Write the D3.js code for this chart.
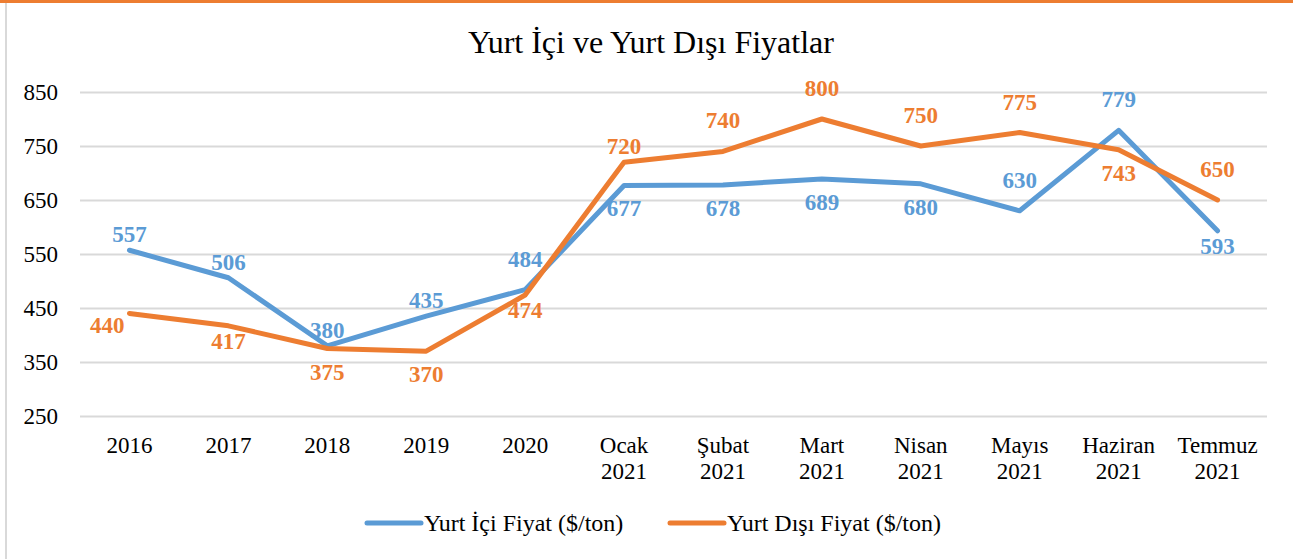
<!DOCTYPE html>
<html>
<head>
<meta charset="utf-8">
<script src="https://cdn.jsdelivr.net/npm/d3@7"></script>
<style>
  body { margin: 0; background: #fff; }
  svg text { font-family: "Liberation Serif", "Times New Roman", serif; }
</style>
</head>
<body>
<div id="vis-holder"></div>
<script>
// Chart data
const categories = ["2016", "2017", "2018", "2019", "2020", "Ocak\n2021", "Şubat\n2021", "Mart\n2021",
                    "Nisan\n2021", "Mayıs\n2021", "Haziran\n2021", "Temmuz\n2021"];
const domesticPrices = [557, 506, 380, 435, 484, 677, 678, 689, 680, 630, 779, 593];
const foreignPrices = [440, 417, 375, 370, 474, 720, 740, 800, 750, 775, 743, 650];
const yTicks = [250, 350, 450, 550, 650, 750, 850];
const seriesNames = ["Yurt İçi Fiyat ($/ton)", "Yurt Dışı Fiyat ($/ton)"];

// where each data label sits relative to its point
const domesticLabelSide = ["above", "above", "above", "above", "high", "below", "below", "below", "below", "high", "high", "near"];
const foreignLabelSide = ["left", "near", "below", "below", "near", "above", "high", "high", "high", "high", "below", "high"];
const labelDy = { above: -8, high: -23, below: 31, near: 23, left: 20 };

const W = 1293, H = 559;
const margin = { top: 92, right: 26, bottom: 143, left: 80 };

const blue = "#5B9BD5";
const orange = "#ED7D31";

const svg = d3.select("#vis-holder")
  .append("svg")
  .attr("width", W)
  .attr("height", H);

// frame bits: orange strip on top, grey edge on left
svg.append("rect").attr("x", 0).attr("y", 0).attr("width", W).attr("height", 3).attr("fill", orange);
svg.append("rect").attr("x", 5).attr("y", 3).attr("width", 2).attr("height", H - 3).attr("fill", "#d9d9d9");

// Scales
const x = d3.scaleBand()
  .domain(categories)
  .range([margin.left, W - margin.right])
  .padding(0);

const y = d3.scaleLinear()
  .domain([250, 850])
  .range([H - margin.bottom, margin.top]);

// Title
svg.append("text")
  .attr("x", 651)
  .attr("y", 53)
  .attr("text-anchor", "middle")
  .attr("font-size", "32px")
  .attr("fill", "#000")
  .text("Yurt İçi ve Yurt Dışı Fiyatlar");

// Grid lines + y axis labels
const yAxis = svg.append("g")
  .attr("transform", `translate(${margin.left},0)`)
  .call(d3.axisLeft(y).tickValues(yTicks).tickSize(-(W - margin.left - margin.right)).tickPadding(22))
  .call((g) => g.select(".domain").remove());

yAxis.selectAll(".tick line").attr("stroke", "#d9d9d9").attr("stroke-width", 2);
yAxis.selectAll(".tick text")
  .attr("font-size", "23px")
  .attr("fill", "#000")
  .attr("font-family", "Liberation Serif, Times New Roman, serif");

// X axis labels (two lines)
const xAxis = svg.append("g")
  .attr("transform", `translate(0,${H - margin.bottom})`)
  .call(d3.axisBottom(x).tickSize(0).tickFormat(""))
  .call((g) => g.select(".domain").remove());

xAxis.selectAll(".tick").each(function (d) {
  const parts = d.split("\n");
  const t = d3.select(this).append("text")
    .attr("text-anchor", "middle")
    .attr("font-size", "23px")
    .attr("fill", "#000")
    .attr("font-family", "Liberation Serif, Times New Roman, serif");
  parts.forEach((p, i) => {
    t.append("tspan").attr("x", 0).attr("y", 37 + i * 26).text(p);
  });
});

// Lines
const line = d3.line()
  .x((d, i) => x(categories[i]) + x.bandwidth() / 2)
  .y((d) => y(d));

const series = [
  { values: domesticPrices, color: blue, sides: domesticLabelSide },
  { values: foreignPrices, color: orange, sides: foreignLabelSide }
];

series.forEach((s) => {
  svg.append("path")
    .datum(s.values)
    .attr("fill", "none")
    .attr("stroke", s.color)
    .attr("stroke-width", 5)
    .attr("stroke-linejoin", "round")
    .attr("stroke-linecap", "round")
    .attr("d", line);
});

// Data labels
series.forEach((s) => {
  svg.append("g")
    .selectAll("text")
    .data(s.values)
    .enter()
    .append("text")
    .attr("x", (d, i) => {
      const cx = x(categories[i]) + x.bandwidth() / 2;
      return s.sides[i] === "left" ? cx - 5 : cx;
    })
    .attr("y", (d, i) => y(d) + labelDy[s.sides[i]])
    .attr("text-anchor", (d, i) => s.sides[i] === "left" ? "end" : "middle")
    .attr("font-size", "23px")
    .attr("font-weight", "bold")
    .attr("fill", s.color)
    .text((d) => d);
});

// Legend
const legendItems = [
  { name: seriesNames[0], color: blue, x: 367 },
  { name: seriesNames[1], color: orange, x: 670 }
];
const legend = svg.append("g").attr("transform", "translate(0,523)");
legendItems.forEach((it) => {
  legend.append("line")
    .attr("x1", it.x).attr("x2", it.x + 54)
    .attr("y1", 0).attr("y2", 0)
    .attr("stroke", it.color)
    .attr("stroke-width", 5)
    .attr("stroke-linecap", "round");
  legend.append("text")
    .attr("x", it.x + 57)
    .attr("y", 8)
    .attr("font-size", "24px")
    .attr("fill", "#000")
    .text(it.name);
});
</script>
</body>
</html>
